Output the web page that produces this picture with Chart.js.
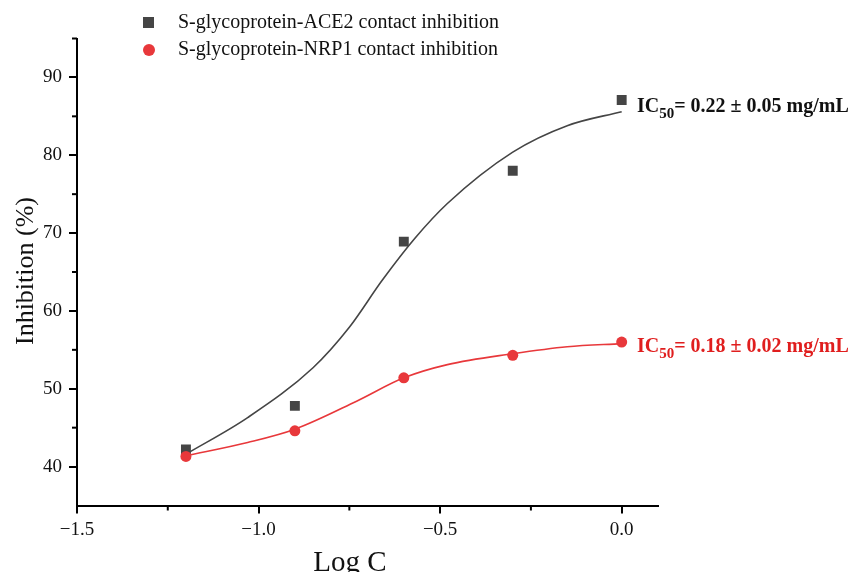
<!DOCTYPE html>
<html>
<head>
<meta charset="utf-8">
<script src="https://cdn.jsdelivr.net/npm/chart.js@4.4.1/dist/chart.umd.min.js"></script>
<style>
html,body{margin:0;padding:0;background:#fff;}
#wrap{width:850px;height:572px;position:relative;}
</style>
</head>
<body>
<div id="wrap"><canvas id="c" width="850" height="572"></canvas></div>
<script>
// ---- data ----
const logC = [-1.2, -0.9, -0.6, -0.3, 0.0];
const ace2Values = [42.2, 47.8, 68.9, 78.0, 87.1];
const nrp1Values = [41.3, 44.6, 51.4, 54.3, 56.0];
const ace2FitLogC = [-1.2, -1.03, -0.85, -0.75, -0.66, -0.57, -0.48, -0.3, -0.15, 0.0];
const ace2Fit = [41.6, 46.3, 52.7, 57.9, 63.9, 69.3, 73.8, 80.4, 83.8, 85.6];
const nrp1FitLogC = [-1.2, -1.03, -0.9, -0.73, -0.6, -0.48, -0.3, -0.15, 0.0];
const nrp1Fit = [41.4, 43.1, 44.8, 48.4, 51.4, 53.1, 54.5, 55.4, 55.8];
const xTicks = [-1.5, -1.0, -0.5, 0.0];
const xMinorTicks = [-1.25, -0.75, -0.25];
const yTicks = [40, 50, 60, 70, 80, 90];
const yMinorTicks = [45, 55, 65, 75, 85, 95];
const seriesNames = ['S-glycoprotein-ACE2 contact inhibition', 'S-glycoprotein-NRP1 contact inhibition'];
const ic50Labels = ['= 0.22 \u00b1 0.05 mg/mL', '= 0.18 \u00b1 0.02 mg/mL'];

const BLACK = '#454545';
const RED = '#e8383b';
const SERIF = '"Liberation Serif", "DejaVu Serif", serif';

const pts = (xs, ys) => xs.map((x, i) => ({x: x, y: ys[i]}));

const extras = {
  id: 'extras',
  afterDraw(chart) {
    const ctx = chart.ctx;
    const xs = chart.scales.x, ys = chart.scales.y;
    const ca = chart.chartArea;
    ctx.save();
    // minor ticks
    ctx.strokeStyle = '#000';
    ctx.lineWidth = 2;
    xMinorTicks.forEach(v => {
      const px = xs.getPixelForValue(v);
      ctx.beginPath(); ctx.moveTo(px, ca.bottom); ctx.lineTo(px, ca.bottom + 5); ctx.stroke();
    });
    yMinorTicks.forEach(v => {
      const py = ys.getPixelForValue(v);
      ctx.beginPath(); ctx.moveTo(ca.left, py); ctx.lineTo(ca.left - 5, py); ctx.stroke();
    });
    // axis titles
    ctx.fillStyle = '#111';
    ctx.font = '29px ' + SERIF;
    ctx.textAlign = 'center'; ctx.textBaseline = 'middle';
    ctx.fillText('Log C', 350, 563);
    ctx.save();
    ctx.translate(26, 271);
    ctx.rotate(-Math.PI / 2);
    ctx.font = '26px ' + SERIF;
    ctx.fillText('Inhibition (%)', 0, 0);
    ctx.restore();
    // legend
    ctx.font = '20px ' + SERIF;
    ctx.textAlign = 'left'; ctx.textBaseline = 'middle';
    ctx.fillStyle = BLACK;
    ctx.fillRect(143, 17, 11, 11);
    ctx.fillStyle = '#111';
    ctx.fillText(seriesNames[0], 178, 23);
    ctx.fillStyle = RED;
    ctx.beginPath(); ctx.arc(149, 50, 6, 0, Math.PI * 2); ctx.fill();
    ctx.fillStyle = '#111';
    ctx.fillText(seriesNames[1], 178, 50);
    // IC50 annotations
    const drawIC = (y, color, rest) => {
      ctx.fillStyle = color;
      ctx.textBaseline = 'alphabetic';
      ctx.font = 'bold 20px ' + SERIF;
      let x = 637;
      ctx.fillText('IC', x, y); x += ctx.measureText('IC').width;
      ctx.font = 'bold 15px ' + SERIF;
      ctx.fillText('50', x, y + 6); x += ctx.measureText('50').width;
      ctx.font = 'bold 20px ' + SERIF;
      ctx.fillText(rest, x, y);
    };
    drawIC(112, '#111', ic50Labels[0]);
    drawIC(352, '#e01e1e', ic50Labels[1]);
    ctx.restore();
  }
};

new Chart(document.getElementById('c'), {
  type: 'scatter',
  data: {
    datasets: [
      {label: 'ACE2 fit', data: pts(ace2FitLogC, ace2Fit), showLine: true, borderColor: BLACK, borderWidth: 1.6,
       pointRadius: 0, cubicInterpolationMode: 'monotone', order: 3},
      {label: 'NRP1 fit', data: pts(nrp1FitLogC, nrp1Fit), showLine: true, borderColor: RED, borderWidth: 1.6,
       pointRadius: 0, cubicInterpolationMode: 'monotone', order: 2},
      {label: seriesNames[0], data: pts(logC, ace2Values), pointStyle: 'rect', pointRadius: 7,
       backgroundColor: BLACK, borderColor: BLACK, borderWidth: 0, order: 1},
      {label: seriesNames[1], data: pts(logC, nrp1Values), pointStyle: 'circle', pointRadius: 5.5,
       backgroundColor: RED, borderColor: RED, borderWidth: 0, order: 0}
    ]
  },
  options: {
    responsive: false,
    animation: false,
    devicePixelRatio: 1,
    layout: {padding: {top: 38.5, right: 192, left: 0, bottom: 0}},
    plugins: {legend: {display: false}, tooltip: {enabled: false}},
    scales: {
      x: {
        type: 'linear', min: -1.5, max: 0.1,
        afterBuildTicks: s => { s.ticks = xTicks.map(v => ({value: v})); },
        afterFit: s => { s.height = 66.5; },
        border: {display: true, color: '#000', width: 2},
        grid: {drawOnChartArea: false, drawTicks: true, tickLength: 8, color: '#000', lineWidth: 2},
        ticks: {
          color: '#111', padding: 5,
          font: {family: SERIF, size: 19},
          callback: v => (v < 0 ? '\u2212' : '') + Math.abs(v).toFixed(1)
        }
      },
      y: {
        type: 'linear', min: 35, max: 95,
        afterBuildTicks: s => { s.ticks = yTicks.map(v => ({value: v})); },
        afterFit: s => { s.width = 77; },
        border: {display: true, color: '#000', width: 2},
        grid: {drawOnChartArea: false, drawTicks: true, tickLength: 8, color: '#000', lineWidth: 2},
        ticks: {
          color: '#111', padding: 7,
          font: {family: SERIF, size: 19},
          callback: v => String(v)
        }
      }
    }
  },
  plugins: [extras]
});
</script>
</body>
</html>
